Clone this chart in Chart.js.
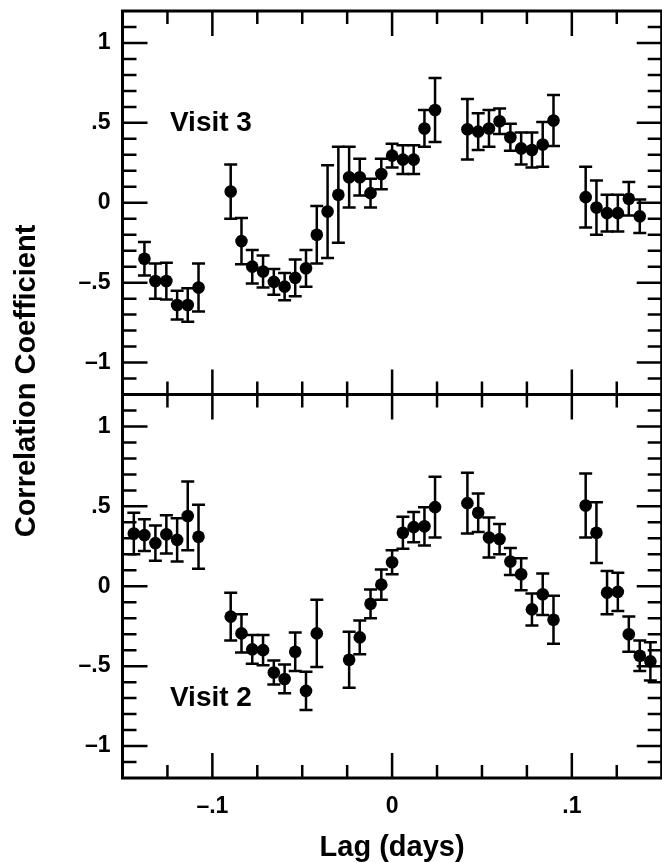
<!DOCTYPE html>
<html>
<head>
<meta charset="utf-8">
<script src="https://cdn.jsdelivr.net/npm/chart.js@4.4.1/dist/chart.umd.min.js"></script>
<style>
  html, body { margin: 0; padding: 0; background: #fff; overflow: hidden; }
  #wrap { position: relative; width: 668px; height: 863px; }
</style>
</head>
<body>
<div id="wrap"><canvas id="ccf" width="668" height="863"></canvas></div>
<script>
// — Visit 3 (top panel) —
const lag3 = [-0.1378, -0.1317, -0.1256, -0.1196, -0.1137, -0.1077,
  -0.0898, -0.0838, -0.0778, -0.0718, -0.0658, -0.0598, -0.0539, -0.0479, -0.0419,
  -0.0359, -0.0299, -0.0239, -0.018, -0.012, -0.006, 0, 0.006, 0.012, 0.018, 0.0239,
  0.0419, 0.0479, 0.0539, 0.0598, 0.0658, 0.0718, 0.0778, 0.0838, 0.0898,
  0.1077, 0.1137, 0.1196, 0.1256, 0.1317, 0.1378];
const corr3 = [-0.35, -0.49, -0.49, -0.64, -0.64, -0.53,
  0.07, -0.24, -0.40, -0.43, -0.495, -0.525, -0.47, -0.41, -0.20,
  -0.055, 0.05, 0.16, 0.16, 0.06, 0.18, 0.295, 0.27, 0.27, 0.465, 0.58,
  0.46, 0.445, 0.465, 0.51, 0.41, 0.34, 0.33, 0.365, 0.515,
  0.035, -0.03, -0.065, -0.065, 0.025, -0.085];
const err3 = [0.105, 0.11, 0.115, 0.09, 0.105, 0.15,
  0.17, 0.145, 0.105, 0.10, 0.08, 0.085, 0.115, 0.115, 0.18,
  0.29, 0.30, 0.19, 0.115, 0.09, 0.095, 0.075, 0.09, 0.09, 0.115, 0.20,
  0.19, 0.115, 0.115, 0.08, 0.085, 0.10, 0.11, 0.14, 0.16,
  0.19, 0.17, 0.115, 0.115, 0.105, 0.105];

// — Visit 2 (bottom panel) —
const lag2 = [-0.1437, -0.1378, -0.1317, -0.1256, -0.1196, -0.1137, -0.1077,
  -0.0898, -0.0838, -0.0778, -0.0718, -0.0658, -0.0598, -0.0539, -0.0479, -0.0419,
  -0.0239, -0.018, -0.012, -0.006, 0, 0.006, 0.012, 0.018, 0.0239,
  0.0419, 0.0479, 0.0539, 0.0598, 0.0658, 0.0718, 0.0778, 0.0838, 0.0898,
  0.1077, 0.1137, 0.1196, 0.1256, 0.1317, 0.1378, 0.1437];
const corr2 = [0.33, 0.32, 0.27, 0.325, 0.29, 0.44, 0.31,
  -0.19, -0.295, -0.395, -0.40, -0.54, -0.58, -0.41, -0.655, -0.295,
  -0.46, -0.32, -0.11, 0.01, 0.15, 0.335, 0.37, 0.375, 0.495,
  0.52, 0.46, 0.305, 0.295, 0.155, 0.075, -0.145, -0.05, -0.21,
  0.505, 0.335, -0.04, -0.035, -0.30, -0.435, -0.47];
const err2 = [0.13, 0.10, 0.11, 0.12, 0.135, 0.215, 0.20,
  0.15, 0.12, 0.09, 0.095, 0.075, 0.09, 0.12, 0.12, 0.21,
  0.175, 0.105, 0.09, 0.095, 0.075, 0.10, 0.095, 0.12, 0.19,
  0.19, 0.12, 0.125, 0.095, 0.085, 0.10, 0.10, 0.13, 0.15,
  0.20, 0.19, 0.135, 0.12, 0.11, 0.095, 0.12];

// — eksen etiketleri —
const xTickValues = [-0.1, 0, 0.1];
const xTickLabels = ['\u2013.1', '0', '.1'];
const xMinorTicks = [-0.125, -0.075, -0.05, -0.025, 0.025, 0.05, 0.075, 0.125];
const yTickValues = [-1, -0.5, 0, 0.5, 1];
const yTickLabels = ['\u20131', '\u2013.5', '0', '.5', '1'];
const yMinorTicks = [-1.1, -0.9, -0.8, -0.7, -0.6, -0.4, -0.3, -0.2, -0.1,
  0.1, 0.2, 0.3, 0.4, 0.6, 0.7, 0.8, 0.9, 1.1];

const FONT = '"Liberation Sans", Arial, Helvetica, sans-serif';

function toPoints(lags, vals, errs) {
  return lags.map((l, i) => ({ x: l, y: vals[i], err: errs[i] }));
}

// — hata çubukları, içe dönük çentikler, çerçeve ve yazılar —
const frame = {
  id: 'frame',
  beforeDatasetsDraw(chart) {
    const ctx = chart.ctx, xs = chart.scales.x;
    ctx.save();
    ctx.strokeStyle = '#000';
    ctx.lineWidth = 2.5;
    chart.data.datasets.forEach(ds => {
      const ys = chart.scales[ds.yAxisID];
      ds.data.forEach(p => {
        const x = xs.getPixelForValue(p.x);
        const a = ys.getPixelForValue(p.y + p.err);
        const b = ys.getPixelForValue(p.y - p.err);
        ctx.beginPath();
        ctx.moveTo(x, a); ctx.lineTo(x, b);
        ctx.moveTo(x - 6.5, a); ctx.lineTo(x + 6.5, a);
        ctx.moveTo(x - 6.5, b); ctx.lineTo(x + 6.5, b);
        ctx.stroke();
      });
    });
    ctx.restore();
  },
  afterDraw(chart) {
    const ctx = chart.ctx, area = chart.chartArea, xs = chart.scales.x;
    ctx.save();
    ctx.strokeStyle = '#000';
    ctx.lineWidth = 2.5;
    ctx.beginPath();
    ['y3', 'y2'].forEach(id => {
      const ys = chart.scales[id];
      const t = ys.top, b = ys.bottom;
      xTickValues.forEach(v => {
        const x = xs.getPixelForValue(v);
        ctx.moveTo(x, t); ctx.lineTo(x, t + 25);
        ctx.moveTo(x, b); ctx.lineTo(x, b - 25);
      });
      xMinorTicks.forEach(v => {
        const x = xs.getPixelForValue(v);
        ctx.moveTo(x, t); ctx.lineTo(x, t + 13);
        ctx.moveTo(x, b); ctx.lineTo(x, b - 13);
      });
      yTickValues.forEach(v => {
        const y = ys.getPixelForValue(v);
        ctx.moveTo(area.left, y); ctx.lineTo(area.left + 25, y);
        ctx.moveTo(area.right, y); ctx.lineTo(area.right - 25, y);
      });
      yMinorTicks.forEach(v => {
        const y = ys.getPixelForValue(v);
        ctx.moveTo(area.left, y); ctx.lineTo(area.left + 14, y);
        ctx.moveTo(area.right, y); ctx.lineTo(area.right - 14, y);
      });
    });
    ctx.stroke();

    // çerçeve
    ctx.lineWidth = 3;
    ctx.strokeRect(area.left, area.top, area.right - area.left, area.bottom - area.top);
    ctx.beginPath();
    const mid = chart.scales.y3.bottom;
    ctx.moveTo(area.left, mid); ctx.lineTo(area.right, mid);
    ctx.stroke();

    // panel yazıları
    ctx.fillStyle = '#000';
    ctx.font = 'bold 28px ' + FONT;
    ctx.textAlign = 'left';
    ctx.textBaseline = 'middle';
    ctx.fillText('Visit 3', xs.getPixelForValue(-0.1236), chart.scales.y3.getPixelForValue(0.5));
    ctx.fillText('Visit 2', xs.getPixelForValue(-0.1236), chart.scales.y2.getPixelForValue(-0.7));

    // eksen başlıkları
    ctx.font = 'bold 29px ' + FONT;
    ctx.textAlign = 'center';
    ctx.fillText('Lag (days)', xs.getPixelForValue(0), 848);
    ctx.translate(27, 381);
    ctx.rotate(-Math.PI / 2);
    ctx.fillText('Correlation Coefficient', 0, 0);
    ctx.restore();
  }
};

const tickFont = { family: FONT, size: 23, weight: 'bold' };

function yAxis(weight) {
  return {
    type: 'linear',
    position: 'left',
    stack: 'panels',
    stackWeight: 1,
    weight: weight,
    min: -1.2,
    max: 1.2,
    grid: { display: false, drawTicks: false },
    border: { display: false },
    afterBuildTicks: s => { s.ticks = yTickValues.map(v => ({ value: v })); },
    afterFit: s => { s.width = 122.5; s.paddingTop = 0; s.paddingBottom = 0; },
    ticks: {
      autoSkip: false,
      padding: 12,
      color: '#000',
      font: tickFont,
      callback: (v, i) => yTickLabels[i]
    }
  };
}

new Chart(document.getElementById('ccf'), {
  type: 'scatter',
  data: {
    datasets: [
      {
        label: 'Visit 2',
        data: toPoints(lag2, corr2, err2),
        yAxisID: 'y2',
        xAxisID: 'x',
        pointRadius: 6.3,
        pointHoverRadius: 6.3,
        pointBackgroundColor: '#000',
        pointBorderWidth: 0,
        showLine: false
      },
      {
        label: 'Visit 3',
        data: toPoints(lag3, corr3, err3),
        yAxisID: 'y3',
        xAxisID: 'x',
        pointRadius: 6.3,
        pointHoverRadius: 6.3,
        pointBackgroundColor: '#000',
        pointBorderWidth: 0,
        showLine: false
      }
    ]
  },
  options: {
    responsive: false,
    animation: false,
    devicePixelRatio: 1,
    layout: { padding: { top: 11, right: 2.5, bottom: 0, left: 0 } },
    plugins: { legend: { display: false }, tooltip: { enabled: false } },
    scales: {
      x: {
        type: 'linear',
        position: 'bottom',
        min: -0.15,
        max: 0.15,
        grid: { display: false, drawTicks: false },
        border: { display: false },
        afterBuildTicks: s => { s.ticks = xTickValues.map(v => ({ value: v })); },
        afterFit: s => { s.height = 85; },
        ticks: {
          autoSkip: false,
          maxRotation: 0,
          padding: 15,
          color: '#000',
          font: tickFont,
          callback: (v, i) => xTickLabels[i]
        }
      },
      y2: yAxis(1),
      y3: yAxis(2)
    }
  },
  plugins: [frame]
});
</script>
</body>
</html>
